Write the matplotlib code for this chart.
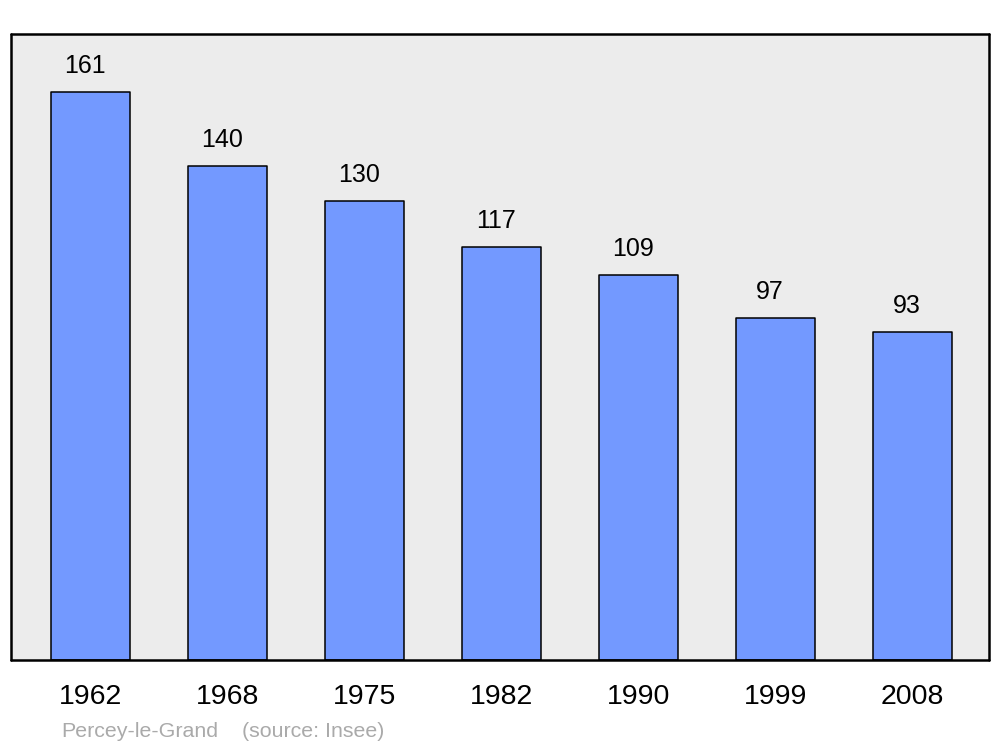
import numpy as np
import matplotlib.pyplot as plt

years = ['1962', '1968', '1975', '1982', '1990', '1999', '2008']
population = [161, 140, 130, 117, 109, 97, 93]
commune = 'Percey-le-Grand'
source = '(source: Insee)'

plt.rcParams['font.family'] = ['Liberation Sans', 'DejaVu Sans']

fig = plt.figure(figsize=(10, 7.47), dpi=100)
ax = fig.add_axes([0.011, 87 / 747, 0.978, 626 / 747])
ax.set_facecolor('#ececec')

x = np.arange(len(years))
bars = ax.bar(x, population, width=0.577, color='#7399ff', edgecolor='black',
              linewidth=1.1, zorder=2)
for b in bars:
    b.set_joinstyle('round')

# values sit a bit to the left of the bar centres, like the original
for xi, v in zip(x, population):
    ax.annotate(str(v), (xi, v), xytext=(-4.3, 13.7), textcoords='offset points',
                ha='center', va='baseline', fontsize=18)

ax.set_xlim(-0.584, 6.56)
ax.set_ylim(0, 177.4)
ax.set_xticks(x)
ax.set_xticklabels(years, fontsize=20.5)
ax.tick_params(axis='x', length=0, pad=17)
ax.set_yticks([])
for s in ax.spines.values():
    s.set_linewidth(1.8)
    s.set_joinstyle('round')
    s.set_capstyle('round')

fig.text(61 / 1000, 1 - 737 / 747, commune, fontsize=15.4, color='#aaaaaa', va='baseline')
fig.text(242 / 1000, 1 - 737 / 747, source, fontsize=15.4, color='#aaaaaa', va='baseline')

fig.savefig('out.png', dpi=100)
